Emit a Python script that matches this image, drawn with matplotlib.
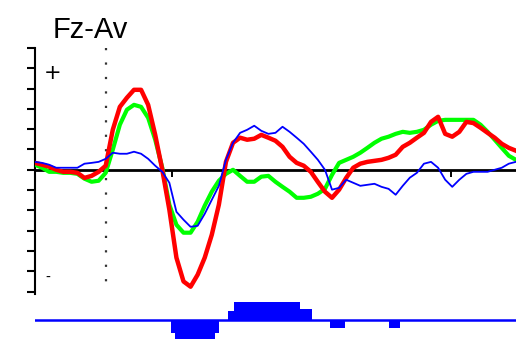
import numpy as np
import matplotlib.pyplot as plt

# time axis (ms) and the three ERP waveforms (uV)
time_ms = np.arange(-100, 590, 10)

red = [0.34, 0.25, 0.15, 0.0, -0.1, -0.1, -0.15, -0.4, -0.3, -0.1,
       0.2, 1.97, 3.1, 3.55, 3.94, 3.94, 3.2, 1.72, 0.0, -1.97,
       -4.33, -5.5, -5.76, -5.17, -4.33, -3.2, -1.72, 0.39, 1.33, 1.58,
       1.48, 1.53, 1.72, 1.58, 1.43, 1.13, 0.64, 0.34, 0.2, -0.1,
       -0.6, -1.08, -1.38, -0.98, -0.4, 0.1, 0.3, 0.39, 0.44, 0.49,
       0.59, 0.74, 1.13, 1.33, 1.58, 1.82, 2.36, 2.61, 1.77, 1.63,
       1.87, 2.36, 2.3, 2.07, 1.82, 1.58, 1.28, 1.08, 0.94]

green = [0.25, 0.1, -0.1, -0.1, -0.15, -0.15, -0.2, -0.44, -0.59, -0.54,
         -0.15, 0.99, 2.22, 2.96, 3.2, 3.1, 2.56, 1.48, 0.1, -1.72,
         -2.71, -3.1, -3.1, -2.56, -1.77, -1.08, -0.54, -0.2, 0.0, -0.3,
         -0.59, -0.59, -0.34, -0.3, -0.59, -0.84, -1.08, -1.38, -1.38, -1.33,
         -1.18, -0.94, -0.25, 0.34, 0.49, 0.64, 0.84, 1.08, 1.33, 1.53,
         1.63, 1.77, 1.87, 1.82, 1.87, 1.97, 2.22, 2.41, 2.46, 2.46,
         2.46, 2.46, 2.46, 2.22, 1.87, 1.48, 1.08, 0.69, 0.49]

blue = [0.39, 0.34, 0.25, 0.1, 0.1, 0.1, 0.1, 0.3, 0.34, 0.39,
        0.54, 0.84, 0.79, 0.79, 0.89, 0.79, 0.54, 0.2, -0.1, -0.64,
        -2.07, -2.46, -2.81, -2.76, -2.17, -1.48, -0.79, 0.49, 1.33, 1.82,
        1.97, 2.17, 1.92, 1.77, 1.82, 2.12, 1.87, 1.58, 1.28, 0.89,
        0.49, 0.0, -0.98, -0.89, -0.49, -0.64, -0.79, -0.74, -0.69, -0.84,
        -0.94, -1.23, -0.79, -0.39, -0.15, 0.3, 0.39, 0.1, -0.49, -0.84,
        -0.49, -0.2, -0.1, -0.1, -0.1, 0.0, 0.1, 0.3, 0.39]

# small marks on the zero line
mark_times = [94, 293, 488]

# significance strip below the plot
sig_start = [92, 98, 154, 173, 181, 275, 317, 400]
sig_end = [98, 154, 160, 181, 275, 292, 338, 416]
sig_level = [-13, -19, -13, 9, 18, 11, -8, -8]

fig = plt.figure(figsize=(5.16, 3.44), dpi=100)
ax = fig.add_axes([0.0678, 0.1465, 0.932, 0.714])

ax.plot(time_ms, green, color="#00ff00", lw=3, zorder=3)
ax.plot(time_ms, red, color="#ff0000", lw=3.2, zorder=4)
ax.plot(time_ms, blue, color="#0000ff", lw=1.3, zorder=5)

ax.axhline(0, color="black", lw=2, zorder=2)
ax.vlines(mark_times, -0.35, 0, color="black", lw=1.4, zorder=2)
ax.plot([0, 0], [6, -5.9], color="#333333", lw=1.6,
        linestyle=(0, (1, 5.5)), zorder=1)

ax.set_xlim(-100, 580)
ax.set_ylim(-6.1, 6)
ax.set_yticks(np.arange(-6, 7, 1))
ax.set_yticklabels([])
ax.set_xticks([])
ax.tick_params(axis="y", direction="out", length=6, width=1.5, color="black")
for s in ["top", "right", "bottom"]:
    ax.spines[s].set_visible(False)
ax.spines["left"].set_linewidth(1.5)
ax.patch.set_alpha(0)

# strip
ax2 = fig.add_axes([0.0678, 0.0, 0.932, 48 / 344])
ax2.bar(sig_start, sig_level, width=np.array(sig_end) - np.array(sig_start),
        align="edge", color="#0000ff", linewidth=0)
ax2.axhline(0, color="#0000ff", lw=1.8)
ax2.set_xlim(-100, 580)
ax2.set_ylim(-24, 24)
ax2.axis("off")

fig.text(53 / 516, 1 - 38 / 344, "Fz-Av", fontsize=21, va="baseline",
         family=["Liberation Sans", "DejaVu Sans"])
fig.text(53 / 516, 1 - 73 / 344, "+", fontsize=15, ha="center", va="center")
fig.text(48 / 516, 1 - 278 / 344, "-", fontsize=10, ha="center", va="center")

fig.savefig("out.png", dpi=100)
